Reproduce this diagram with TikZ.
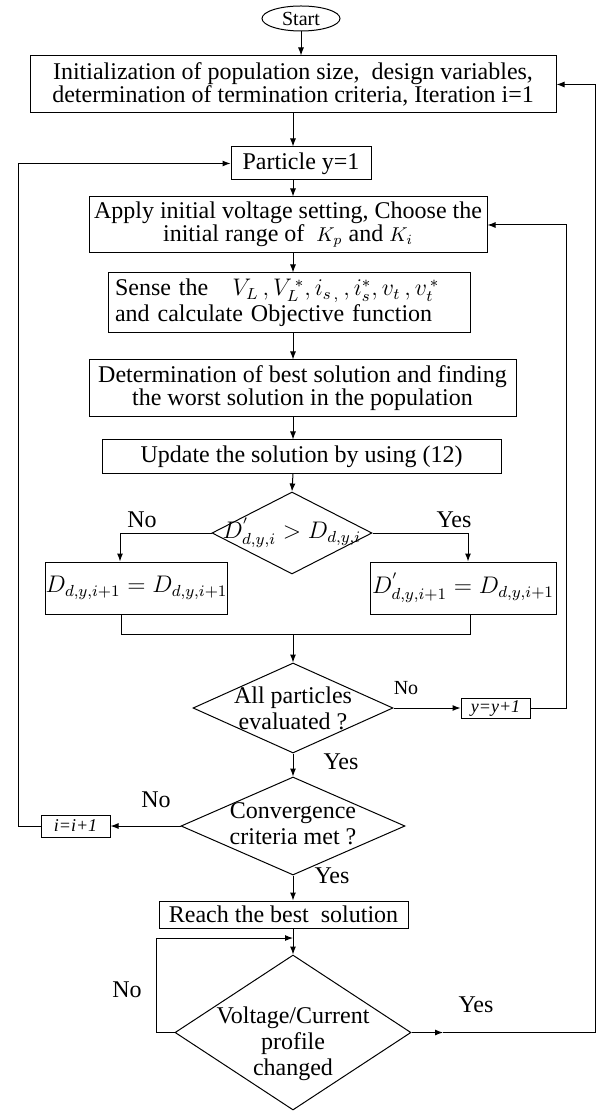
\documentclass[tikz,border=0pt]{standalone}
\usepackage{fontspec}
\setmainfont{Liberation Serif}
\usetikzlibrary{arrows.meta,shapes,positioning,calc}

\begin{document}
\begin{tikzpicture}[x=0.5pt,y=-0.5pt,>={Latex[length=4pt,width=3pt]},line width=0.5pt,
box node/.style={rectangle,draw,inner sep=0pt,align=center,font=\fontsize{12}{11.5}\selectfont},
dec node/.style={diamond,draw,inner sep=0pt},
dec text/.style={align=center,inner sep=0pt,font=\fontsize{12}{13}\selectfont},
lbl/.style={inner sep=0pt,font=\fontsize{12}{12}\selectfont},
small box/.style={rectangle,draw,inner sep=0pt,font=\fontsize{9}{10}\selectfont\itshape}]
\useasboundingbox (0,0) rectangle (604,1111);
\begin{scope}
\node[ellipse,draw,inner sep=0pt,minimum width=39pt,minimum height=12.5pt,font=\fontsize{10}{11}\selectfont] (start) at (301,18.5) {Start};
\node[box node,minimum width=263pt,minimum height=28.5pt] (init) at (293,84.5) {Initialization of population size,\ \ design variables,\\ determination of termination criteria, Iteration i=1};
\node[box node,minimum width=70pt,minimum height=16.5pt] (particle) at (301,163.5) {Particle y=1};
\node[box node,minimum width=199pt,minimum height=28pt] (apply) at (288,225) {Apply initial voltage setting, Choose the\\ initial range of\ \ {\fontsize{10}{10}\selectfont$K_{p}$} and {\fontsize{10}{10}\selectfont$K_{i}$}};
\node[box node,minimum width=181pt,minimum height=30pt,text width=174pt,align=left] (sense) at (289,303) {Sense the\quad $V_{L}\,,V_{L}^{\,*},i_{s\,,}\,,i_{s}^{*},v_{t}\,,v_{t}^{\,*}$\\ and calculate Objective function};
\node[box node,minimum width=213.5pt,minimum height=28.5pt] (determ) at (302.5,388.5) {Determination of best solution and finding\\ the worst solution in the population};
\node[box node,minimum width=199.5pt,minimum height=16.5pt] (update) at (301.5,456.5) {Update the solution by using (12)};
\node[dec node,minimum width=80pt,minimum height=41pt] (d1) at (292,533) {};
\node[dec text,font=\fontsize{12}{14}\selectfont] (d1t) at (292,533) {$D^{'}_{d,y,i}>D_{d,y,i}$};
\node[box node,minimum width=89.5pt,minimum height=26pt,font=\fontsize{12}{14}\selectfont] (lbox) at (136.5,588) {$D_{d,y,i+1}=D_{d,y,i+1}$};
\node[box node,minimum width=93pt,minimum height=26pt,font=\fontsize{12}{14}\selectfont] (rbox) at (463,588) {$D^{'}_{d,y,i+1}=D_{d,y,i+1}$};
\node[dec node,minimum width=100pt,minimum height=45pt] (d2) at (293,708) {};
\node[dec text] (d2t) at (293,708) {All particles\\ evaluated ?};
\node[small box,minimum width=34.5pt,minimum height=10pt] (yy) at (495.5,708) {y=y+1};
\node[dec node,minimum width=112pt,minimum height=49pt] (d3) at (293,826) {};
\node[dec text] (d3t) at (293,824) {Convergence\\ criteria met ?};
\node[small box,minimum width=34.5pt,minimum height=11pt] (ii) at (75.5,826) {i=i+1};
\node[box node,minimum width=124.5pt,minimum height=13.5pt] (reach) at (283.5,914.5) {Reach the best\ \ solution};
\node[dec node,minimum width=118pt,minimum height=77.5pt] (d4) at (293,1032.5) {};
\node[dec text] (d4t) at (293,1044) {Voltage/Current\\ profile\\ changed};
\end{scope}
\begin{scope}
\node[lbl] (no1) at (142,520) {No};
\node[lbl] (yes1) at (454,520) {Yes};
\node[lbl,font=\fontsize{10}{10}\selectfont] (no2) at (406,688) {No};
\node[lbl] (yes2) at (341,762) {Yes};
\node[lbl] (no3) at (156,800) {No};
\node[lbl] (yes3) at (332,876) {Yes};
\node[lbl] (no4) at (127,990) {No};
\node[lbl] (yes4) at (476,1005) {Yes};
\end{scope}
\coordinate (ax) at (293,0);
\coordinate (lturn) at (120,533);
\coordinate (rturn) at (468,533);
\coordinate (lmerge) at (121,634);
\coordinate (rmerge) at (470,634);
\coordinate (rloop) at (566,0);
\coordinate (lloop) at (18,0);
\coordinate (nol) at (156,0);
\coordinate (nojoin) at (293,938);
\coordinate (yesmid) at (443,1032.5);
\coordinate (yesloop) at (595,0);
\begin{scope}
\draw[->] (start.south) -- (start.south |- init.north);
\draw[->] (init.south -| ax) -- (particle.north -| ax);
\draw[->] (particle.south -| ax) -- (apply.north -| ax);
\draw[->] (apply.south -| ax) -- (sense.north -| ax);
\draw[->] (sense.south -| ax) -- (determ.north -| ax);
\draw[->] (determ.south -| ax) -- (update.north -| ax);
\draw[->] (update.south -| ax) -- (d1.north);
\draw[->] (d1.west) -- (lturn) -- (lturn |- lbox.north);
\draw[->] (d1.east) -- (rturn) -- (rturn |- rbox.north);
\draw (lbox.south -| lmerge) -- (lmerge) -- (rmerge) -- (rbox.south -| rmerge);
\draw[->] (ax |- lmerge) -- (d2.north);
\draw[->] (d2.east) -- (yy.west);
\draw[->] (yy.east) -- (rloop |- yy.east) |- (apply.east);
\draw[->] (d2.south) -- (d3.north);
\draw[->] (d3.west) -- (ii.east);
\draw[->] (ii.west) -- (lloop |- ii.west) |- (particle.west);
\draw[->] (d3.south) -- (reach.north -| ax);
\draw[->] (reach.south -| ax) -- (d4.north);
\draw[->] (d4.west) -- (nol |- d4.west) |- (nojoin);
\draw[->] (d4.east) -- (yesmid);
\draw[->] (yesmid) -- (yesloop |- d4.east) |- (init.east);
\end{scope}
\end{tikzpicture}
\end{document}
